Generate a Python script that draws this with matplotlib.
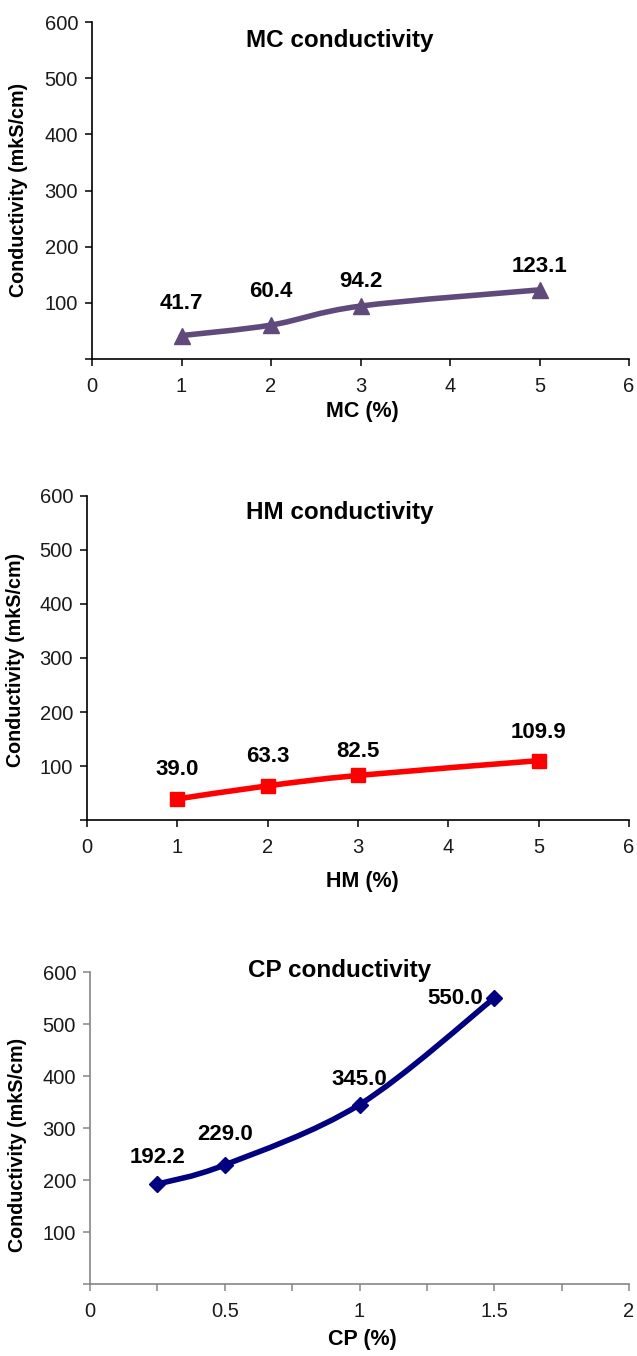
import numpy as np
import matplotlib
matplotlib.use("Agg")
import matplotlib.pyplot as plt
from matplotlib import font_manager
from matplotlib.path import Path
from matplotlib.patches import PathPatch
from matplotlib.ticker import MultipleLocator, FuncFormatter

# data
mc_pct = [1, 2, 3, 5]
mc_cond = [41.7, 60.4, 94.2, 123.1]
hm_pct = [1, 2, 3, 5]
hm_cond = [39.0, 63.3, 82.5, 109.9]
cp_pct = [0.25, 0.5, 1, 1.5]
cp_cond = [192.2, 229.0, 345.0, 550.0]
y_ticks = [0, 100, 200, 300, 400, 500, 600]

W, H = 637, 1356
plt.rcParams['font.family'] = ['Liberation Sans', 'DejaVu Sans']

# the bold labels look condensed (arial narrow), use it when it is there
installed = {f.name for f in font_manager.fontManager.ttflist}
if 'Liberation Sans Narrow' in installed:
    label_font = ['Liberation Sans Narrow', 'Liberation Sans']
    label_size = 17.5
    xlab_size = 17
else:
    label_font = ['Liberation Sans', 'DejaVu Sans']
    label_size = 16
    xlab_size = 15.5


def fx(px):
    return px / W


def fy(py):
    return 1 - py / H


# excel-like smoothed line: catmull-rom turned into cubic beziers
def smooth_path(x, y):
    pts = np.column_stack([x, y]).astype(float)
    n = len(pts)
    verts = [pts[0]]
    codes = [Path.MOVETO]
    for i in range(n - 1):
        p0 = pts[max(i - 1, 0)]
        p1 = pts[i]
        p2 = pts[i + 1]
        p3 = pts[min(i + 2, n - 1)]
        verts += [p1 + (p2 - p0) / 6, p2 - (p3 - p1) / 6, p2]
        codes += [Path.CURVE4] * 3
    return Path(verts, codes)


def draw_panel(box, x, y, color, marker, ms, xmax, xmajor, xminor,
               axcol, title, title_xy, xlabel, xlabel_y, ylabel_xy, offsets):
    left, top, right, bottom = box
    ax = fig.add_axes([fx(left), fy(bottom), fx(right - left), (bottom - top) / H])
    ax.add_patch(PathPatch(smooth_path(x, y), facecolor='none', edgecolor=color,
                           lw=4.0, capstyle='round', joinstyle='round'))
    ax.plot(x, y, linestyle='none', marker=marker, ms=ms, color=color, mec=color)
    ax.set_xlim(0, xmax)
    ax.set_ylim(0, 600)
    ax.set_yticks(y_ticks)
    ax.yaxis.set_major_formatter(FuncFormatter(lambda v, p: '' if v == 0 else '%d' % v))
    ax.xaxis.set_major_locator(MultipleLocator(xmajor))
    ax.xaxis.set_minor_locator(MultipleLocator(xminor))
    ax.xaxis.set_major_formatter(FuncFormatter(lambda v, p: '%g' % v))
    for s in ['top', 'right']:
        ax.spines[s].set_visible(False)
    for s in ['left', 'bottom']:
        ax.spines[s].set_color(axcol)
        ax.spines[s].set_linewidth(1.2)
    ax.tick_params(which='both', direction='out', length=5, width=1.1, color=axcol,
                   labelsize=14.5, labelcolor='#1a1a1a', pad=5)
    ax.tick_params(axis='x', pad=8)
    for xi, yi, off in zip(x, y, offsets):
        ha = 'center' if off[0] == 0 else 'right'
        ax.annotate('%.1f' % yi, (xi, yi), xytext=off, textcoords='offset points',
                    ha=ha, va='center', fontsize=label_size, fontweight='bold',
                    family=label_font, color='black')
    fig.text(fx(title_xy[0]), fy(title_xy[1]), title, ha='center', va='center',
             fontsize=17.5, fontweight='bold')
    fig.text(fx(362), fy(xlabel_y), xlabel, ha='center', va='center',
             fontsize=xlab_size, fontweight='bold', family=label_font)
    fig.text(fx(ylabel_xy[0]), fy(ylabel_xy[1]), 'Conductivity (mkS/cm)', rotation=90,
             ha='center', va='center', fontsize=14.2, fontweight='bold')
    return ax


fig = plt.figure(figsize=(W / 100, H / 100), dpi=100)

draw_panel((92, 22, 629, 359), mc_pct, mc_cond, '#604A7B', '^', 11.5, 6, 1, 1,
           'black', 'MC conductivity', (340, 40), 'MC (%)', 412, (19, 190),
           [(0, 23), (0, 24), (0, 18), (0, 17)])

draw_panel((87, 496, 629, 820), hm_pct, hm_cond, '#FF0000', 's', 10, 6, 1, 1,
           'black', 'HM conductivity', (340, 512), 'HM (%)', 882, (16, 660),
           [(0, 21), (0, 21), (0, 17), (0, 20)])

draw_panel((90, 972, 629, 1284), cp_pct, cp_cond, '#000080', 'D', 8, 2, 0.5, 0.25,
           '#868686', 'CP conductivity', (340, 970), 'CP (%)', 1340, (18, 1145),
           [(0, 19), (0, 22), (0, 18), (-8, 0)])

fig.savefig('out.png', dpi=100)
